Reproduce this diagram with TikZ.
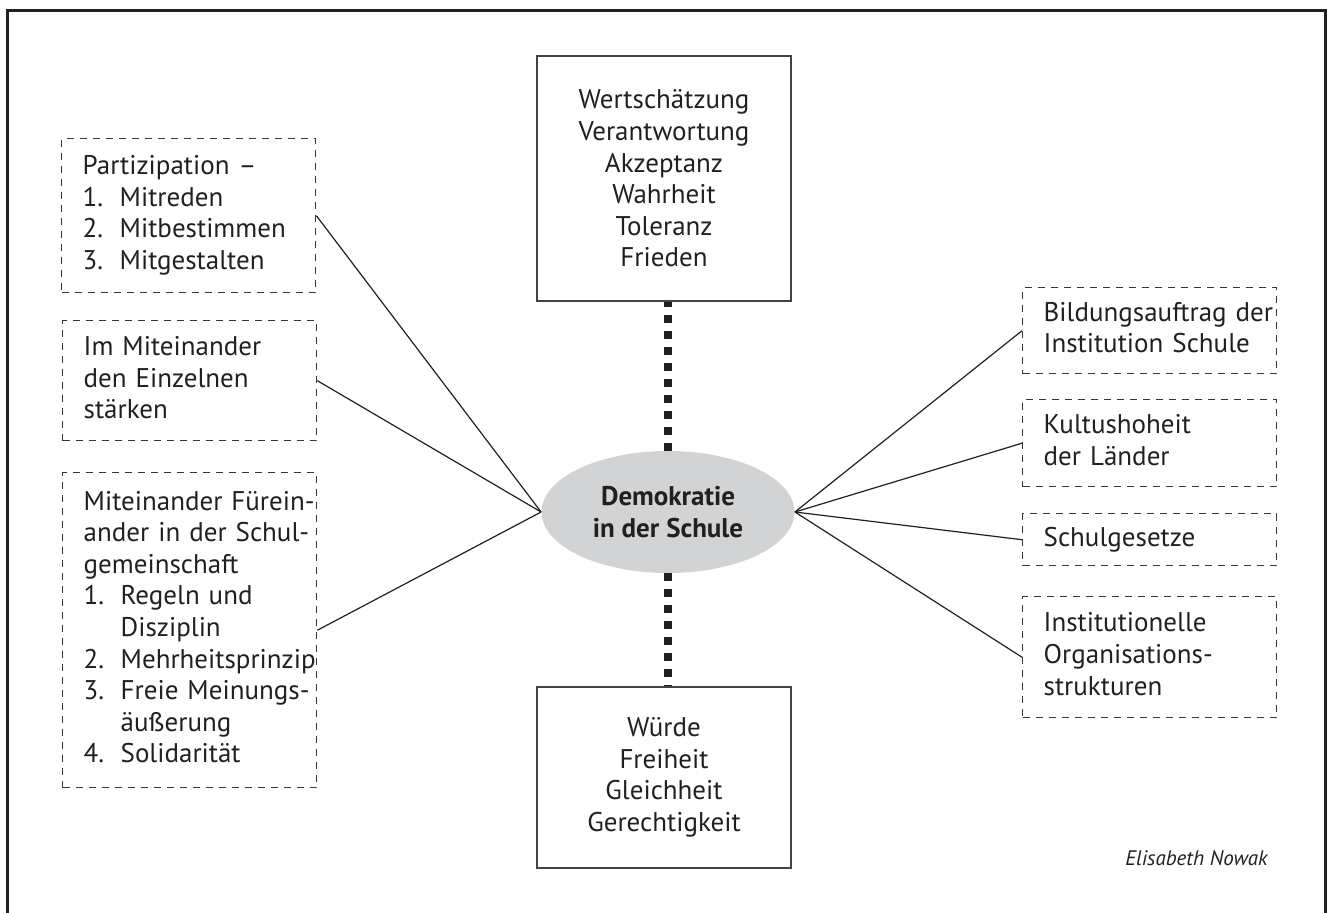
\documentclass[tikz,border=0pt]{standalone}
\usepackage{fontspec}
\setmainfont{PT Sans}
\usetikzlibrary{shapes.geometric}
\definecolor{ink}{HTML}{231F20}
\definecolor{ellgray}{HTML}{D1D3D4}
\newcommand\itm[2]{\makebox[18.5pt][l]{#1}#2}
\newcommand\cont[1]{\hspace*{18.5pt}#1}
\begin{document}
\begin{tikzpicture}[x=0.5pt,y=-0.5pt,
  font=\fontsize{13.5}{15.8}\selectfont, text=ink,
  dbox/.style={draw=ink!90, dash pattern=on 3.5pt off 3pt, line width=0.7pt,
    rectangle, minimum width=127pt, text width=106pt, inner xsep=10.5pt,
    inner ysep=0pt, align=left, anchor=north west},
  sbox/.style={draw=ink!85, line width=0.8pt, rectangle, minimum width=127pt,
    align=center, inner sep=0pt},
  link/.style={draw=ink, line width=0.6pt},
  dots/.style={draw=ink, line width=4pt, dash pattern=on 4pt off 4pt}]
\useasboundingbox (0,0) rectangle (1328,912);
% frame
\draw[ink, line width=1.5pt] (7,940) -- (7,10) -- (1325,10) -- (1325,940);

% centre
\node[ellipse, fill=ellgray, minimum width=126.5pt, minimum height=61pt,
  inner sep=0pt, align=center, font=\fontsize{13.5}{15.8}\selectfont\bfseries]
  (ell) at (668,512) {Demokratie\\in der Schule};
\node[sbox, minimum height=122.5pt] (top) at (664,178.5)
  {Wertschätzung\\Verantwortung\\Akzeptanz\\Wahrheit\\Toleranz\\Frieden};
\node[sbox, minimum height=90.5pt] (bot) at (664,777.5)
  {Würde\\Freiheit\\Gleichheit\\Gerechtigkeit};

% left boxes
\node[dbox, minimum height=77pt] (l1) at (61,138)
  {\begin{tabular}{@{}l@{}}Partizipation –\\\itm{1.}{Mitreden}\\\itm{2.}{Mitbestimmen}\\\itm{3.}{Mitgestalten}\end{tabular}};
\node[dbox, minimum height=60pt] (l2) at (62,320)
  {\begin{tabular}{@{}l@{}}Im Miteinander\\den Einzelnen\\stärken\end{tabular}};
\node[dbox, minimum height=157.5pt] (l3) at (62,472)
  {\begin{tabular}{@{}l@{}}Miteinander Fürein-\\ander in der Schul-\\gemeinschaft\\\itm{1.}{Regeln und}\\\cont{Disziplin}\\\itm{2.}{Mehrheitsprinzip}\\\itm{3.}{Freie Meinungs-}\\\cont{äußerung}\\\itm{4.}{Solidarität}\end{tabular}};

% right boxes
\node[dbox, minimum height=43pt] (r1) at (1022,287)
  {\begin{tabular}{@{}l@{}}Bildungsauftrag der\\Institution Schule\end{tabular}};
\node[dbox, minimum height=43.5pt] (r2) at (1022,399)
  {\begin{tabular}{@{}l@{}}Kultushoheit\\der Länder\end{tabular}};
\node[dbox, minimum height=26pt] (r3) at (1022,513)
  {\begin{tabular}{@{}l@{}}Schulgesetze\end{tabular}};
\node[dbox, minimum height=60.5pt] (r4) at (1022,596)
  {\begin{tabular}{@{}l@{}}Institutionelle\\Organisations-\\strukturen\end{tabular}};

\node[anchor=east, inner sep=0pt, font=\fontsize{10.5}{12}\selectfont\itshape] (auth) at (1268,858) {Elisabeth Nowak};

% connectors
\draw[dots] (ell.north) -- (ell.north |- top.south);
\draw[dots] (ell.south) -- (ell.south |- bot.north);
\foreach \b in {l1,l2,l3} \draw[link] (\b.east) -- (ell.west);
\foreach \b in {r1,r2,r3,r4} \draw[link] (ell.east) -- (\b.west);
\end{tikzpicture}
\end{document}
